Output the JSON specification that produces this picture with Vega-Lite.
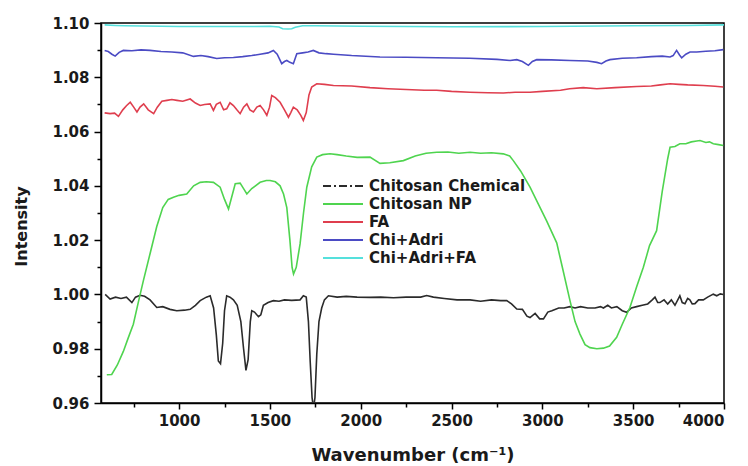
{
  "$schema": "https://vega.github.io/schema/vega-lite/v6.json",
  "width": 623,
  "height": 380,
  "autosize": {"type": "none"},
  "padding": {"left": 101, "top": 23, "right": 24, "bottom": 63},
  "background": "white",
  "config": {
    "view": {"stroke": "black", "strokeWidth": 1.5},
    "axis": {
      "grid": false,
      "domainColor": "black",
      "domainWidth": 1.5,
      "tickColor": "black",
      "tickWidth": 1.5,
      "labelFont": "DejaVu Sans",
      "labelFontWeight": "bold",
      "labelFontSize": 15,
      "labelColor": "#1a1a1a",
      "titleFont": "DejaVu Sans",
      "titleFontWeight": "bold",
      "titleColor": "#1a1a1a"
    },
    "legend": {
      "labelFont": "DejaVu Sans",
      "labelFontWeight": "bold",
      "labelFontSize": 15,
      "labelColor": "#1a1a1a"
    }
  },
  "data": {"values": [
    {"s":"Chitosan Chemical","x":593,"y":1.000},{"s":"Chitosan Chemical","x":620,"y":0.9983},{"s":"Chitosan Chemical","x":650,"y":0.999},{"s":"Chitosan Chemical","x":680,"y":0.9985},{"s":"Chitosan Chemical","x":710,"y":0.999},{"s":"Chitosan Chemical","x":740,"y":0.997},{"s":"Chitosan Chemical","x":760,"y":0.999},{"s":"Chitosan Chemical","x":785,"y":0.9997},{"s":"Chitosan Chemical","x":810,"y":0.9993},{"s":"Chitosan Chemical","x":840,"y":0.998},{"s":"Chitosan Chemical","x":877,"y":0.9952},{"s":"Chitosan Chemical","x":910,"y":0.9955},{"s":"Chitosan Chemical","x":950,"y":0.9945},{"s":"Chitosan Chemical","x":987,"y":0.994},{"s":"Chitosan Chemical","x":1030,"y":0.9942},{"s":"Chitosan Chemical","x":1061,"y":0.9945},{"s":"Chitosan Chemical","x":1090,"y":0.996},{"s":"Chitosan Chemical","x":1116,"y":0.9977},{"s":"Chitosan Chemical","x":1150,"y":0.999},{"s":"Chitosan Chemical","x":1171,"y":0.9995},{"s":"Chitosan Chemical","x":1190,"y":0.995},{"s":"Chitosan Chemical","x":1205,"y":0.985},{"s":"Chitosan Chemical","x":1216,"y":0.9755},{"s":"Chitosan Chemical","x":1228,"y":0.9745},{"s":"Chitosan Chemical","x":1240,"y":0.982},{"s":"Chitosan Chemical","x":1250,"y":0.994},{"s":"Chitosan Chemical","x":1262,"y":0.9995},{"s":"Chitosan Chemical","x":1280,"y":0.999},{"s":"Chitosan Chemical","x":1299,"y":0.998},{"s":"Chitosan Chemical","x":1320,"y":0.996},{"s":"Chitosan Chemical","x":1340,"y":0.99},{"s":"Chitosan Chemical","x":1355,"y":0.98},{"s":"Chitosan Chemical","x":1368,"y":0.972},{"s":"Chitosan Chemical","x":1380,"y":0.976},{"s":"Chitosan Chemical","x":1392,"y":0.99},{"s":"Chitosan Chemical","x":1400,"y":0.994},{"s":"Chitosan Chemical","x":1415,"y":0.9935},{"s":"Chitosan Chemical","x":1437,"y":0.9918},{"s":"Chitosan Chemical","x":1450,"y":0.9925},{"s":"Chitosan Chemical","x":1464,"y":0.996},{"s":"Chitosan Chemical","x":1490,"y":0.997},{"s":"Chitosan Chemical","x":1519,"y":0.9977},{"s":"Chitosan Chemical","x":1550,"y":0.9975},{"s":"Chitosan Chemical","x":1580,"y":0.998},{"s":"Chitosan Chemical","x":1620,"y":0.9978},{"s":"Chitosan Chemical","x":1666,"y":0.998},{"s":"Chitosan Chemical","x":1684,"y":0.9995},{"s":"Chitosan Chemical","x":1700,"y":0.999},{"s":"Chitosan Chemical","x":1712,"y":0.99},{"s":"Chitosan Chemical","x":1722,"y":0.975},{"s":"Chitosan Chemical","x":1732,"y":0.962},{"s":"Chitosan Chemical","x":1740,"y":0.958},{"s":"Chitosan Chemical","x":1748,"y":0.962},{"s":"Chitosan Chemical","x":1758,"y":0.978},{"s":"Chitosan Chemical","x":1770,"y":0.990},{"s":"Chitosan Chemical","x":1785,"y":0.995},{"s":"Chitosan Chemical","x":1800,"y":0.998},{"s":"Chitosan Chemical","x":1822,"y":0.9995},{"s":"Chitosan Chemical","x":1870,"y":0.999},{"s":"Chitosan Chemical","x":1920,"y":0.9993},{"s":"Chitosan Chemical","x":1980,"y":0.999},{"s":"Chitosan Chemical","x":2051,"y":0.9989},{"s":"Chitosan Chemical","x":2110,"y":0.999},{"s":"Chitosan Chemical","x":2180,"y":0.9988},{"s":"Chitosan Chemical","x":2250,"y":0.999},{"s":"Chitosan Chemical","x":2330,"y":0.999},{"s":"Chitosan Chemical","x":2363,"y":0.9996},{"s":"Chitosan Chemical","x":2400,"y":0.999},{"s":"Chitosan Chemical","x":2460,"y":0.9985},{"s":"Chitosan Chemical","x":2530,"y":0.998},{"s":"Chitosan Chemical","x":2602,"y":0.998},{"s":"Chitosan Chemical","x":2660,"y":0.9975},{"s":"Chitosan Chemical","x":2720,"y":0.998},{"s":"Chitosan Chemical","x":2770,"y":0.9977},{"s":"Chitosan Chemical","x":2804,"y":0.9977},{"s":"Chitosan Chemical","x":2830,"y":0.9965},{"s":"Chitosan Chemical","x":2859,"y":0.9946},{"s":"Chitosan Chemical","x":2890,"y":0.9945},{"s":"Chitosan Chemical","x":2915,"y":0.992},{"s":"Chitosan Chemical","x":2932,"y":0.9915},{"s":"Chitosan Chemical","x":2960,"y":0.993},{"s":"Chitosan Chemical","x":2985,"y":0.991},{"s":"Chitosan Chemical","x":3006,"y":0.991},{"s":"Chitosan Chemical","x":3030,"y":0.9935},{"s":"Chitosan Chemical","x":3052,"y":0.994},{"s":"Chitosan Chemical","x":3090,"y":0.995},{"s":"Chitosan Chemical","x":3120,"y":0.995},{"s":"Chitosan Chemical","x":3152,"y":0.9955},{"s":"Chitosan Chemical","x":3180,"y":0.995},{"s":"Chitosan Chemical","x":3210,"y":0.9955},{"s":"Chitosan Chemical","x":3250,"y":0.995},{"s":"Chitosan Chemical","x":3290,"y":0.995},{"s":"Chitosan Chemical","x":3320,"y":0.9955},{"s":"Chitosan Chemical","x":3336,"y":0.995},{"s":"Chitosan Chemical","x":3360,"y":0.996},{"s":"Chitosan Chemical","x":3380,"y":0.995},{"s":"Chitosan Chemical","x":3410,"y":0.9955},{"s":"Chitosan Chemical","x":3440,"y":0.994},{"s":"Chitosan Chemical","x":3464,"y":0.9934},{"s":"Chitosan Chemical","x":3490,"y":0.995},{"s":"Chitosan Chemical","x":3519,"y":0.9955},{"s":"Chitosan Chemical","x":3550,"y":0.996},{"s":"Chitosan Chemical","x":3580,"y":0.9965},{"s":"Chitosan Chemical","x":3605,"y":0.998},{"s":"Chitosan Chemical","x":3620,"y":0.999},{"s":"Chitosan Chemical","x":3635,"y":0.997},{"s":"Chitosan Chemical","x":3647,"y":0.997},{"s":"Chitosan Chemical","x":3670,"y":0.998},{"s":"Chitosan Chemical","x":3690,"y":0.9965},{"s":"Chitosan Chemical","x":3710,"y":0.998},{"s":"Chitosan Chemical","x":3730,"y":0.996},{"s":"Chitosan Chemical","x":3757,"y":0.9995},{"s":"Chitosan Chemical","x":3770,"y":0.997},{"s":"Chitosan Chemical","x":3785,"y":0.9966},{"s":"Chitosan Chemical","x":3800,"y":0.9985},{"s":"Chitosan Chemical","x":3812,"y":0.998},{"s":"Chitosan Chemical","x":3825,"y":0.9965},{"s":"Chitosan Chemical","x":3840,"y":0.9966},{"s":"Chitosan Chemical","x":3860,"y":0.998},{"s":"Chitosan Chemical","x":3886,"y":0.998},{"s":"Chitosan Chemical","x":3910,"y":0.999},{"s":"Chitosan Chemical","x":3941,"y":1.0001},{"s":"Chitosan Chemical","x":3960,"y":0.9995},{"s":"Chitosan Chemical","x":3980,"y":1.0002},{"s":"Chitosan Chemical","x":3996,"y":1.000},

    {"s":"Chitosan NP","x":602,"y":0.9704},{"s":"Chitosan NP","x":629,"y":0.9705},{"s":"Chitosan NP","x":660,"y":0.974},{"s":"Chitosan NP","x":693,"y":0.979},{"s":"Chitosan NP","x":720,"y":0.984},{"s":"Chitosan NP","x":748,"y":0.989},{"s":"Chitosan NP","x":775,"y":0.997},{"s":"Chitosan NP","x":803,"y":1.005},{"s":"Chitosan NP","x":840,"y":1.015},{"s":"Chitosan NP","x":877,"y":1.025},{"s":"Chitosan NP","x":910,"y":1.032},{"s":"Chitosan NP","x":940,"y":1.035},{"s":"Chitosan NP","x":969,"y":1.0358},{"s":"Chitosan NP","x":1000,"y":1.0365},{"s":"Chitosan NP","x":1042,"y":1.037},{"s":"Chitosan NP","x":1080,"y":1.040},{"s":"Chitosan NP","x":1116,"y":1.0413},{"s":"Chitosan NP","x":1150,"y":1.0415},{"s":"Chitosan NP","x":1189,"y":1.0413},{"s":"Chitosan NP","x":1226,"y":1.0395},{"s":"Chitosan NP","x":1250,"y":1.035},{"s":"Chitosan NP","x":1272,"y":1.0315},{"s":"Chitosan NP","x":1290,"y":1.036},{"s":"Chitosan NP","x":1309,"y":1.0408},{"s":"Chitosan NP","x":1336,"y":1.041},{"s":"Chitosan NP","x":1355,"y":1.039},{"s":"Chitosan NP","x":1373,"y":1.037},{"s":"Chitosan NP","x":1400,"y":1.039},{"s":"Chitosan NP","x":1446,"y":1.0413},{"s":"Chitosan NP","x":1480,"y":1.042},{"s":"Chitosan NP","x":1501,"y":1.042},{"s":"Chitosan NP","x":1530,"y":1.0415},{"s":"Chitosan NP","x":1556,"y":1.040},{"s":"Chitosan NP","x":1575,"y":1.037},{"s":"Chitosan NP","x":1593,"y":1.032},{"s":"Chitosan NP","x":1610,"y":1.020},{"s":"Chitosan NP","x":1622,"y":1.010},{"s":"Chitosan NP","x":1630,"y":1.0075},{"s":"Chitosan NP","x":1645,"y":1.010},{"s":"Chitosan NP","x":1666,"y":1.0186},{"s":"Chitosan NP","x":1685,"y":1.030},{"s":"Chitosan NP","x":1703,"y":1.0395},{"s":"Chitosan NP","x":1730,"y":1.047},{"s":"Chitosan NP","x":1758,"y":1.0506},{"s":"Chitosan NP","x":1790,"y":1.0515},{"s":"Chitosan NP","x":1831,"y":1.0518},{"s":"Chitosan NP","x":1870,"y":1.0515},{"s":"Chitosan NP","x":1920,"y":1.051},{"s":"Chitosan NP","x":1980,"y":1.0505},{"s":"Chitosan NP","x":2051,"y":1.0506},{"s":"Chitosan NP","x":2106,"y":1.0483},{"s":"Chitosan NP","x":2160,"y":1.0485},{"s":"Chitosan NP","x":2235,"y":1.0493},{"s":"Chitosan NP","x":2300,"y":1.051},{"s":"Chitosan NP","x":2360,"y":1.052},{"s":"Chitosan NP","x":2418,"y":1.0524},{"s":"Chitosan NP","x":2480,"y":1.0525},{"s":"Chitosan NP","x":2540,"y":1.052},{"s":"Chitosan NP","x":2602,"y":1.0524},{"s":"Chitosan NP","x":2660,"y":1.052},{"s":"Chitosan NP","x":2720,"y":1.0522},{"s":"Chitosan NP","x":2785,"y":1.0518},{"s":"Chitosan NP","x":2820,"y":1.051},{"s":"Chitosan NP","x":2840,"y":1.0493},{"s":"Chitosan NP","x":2880,"y":1.0455},{"s":"Chitosan NP","x":2932,"y":1.0395},{"s":"Chitosan NP","x":2980,"y":1.033},{"s":"Chitosan NP","x":3024,"y":1.027},{"s":"Chitosan NP","x":3079,"y":1.019},{"s":"Chitosan NP","x":3110,"y":1.010},{"s":"Chitosan NP","x":3152,"y":0.9977},{"s":"Chitosan NP","x":3180,"y":0.990},{"s":"Chitosan NP","x":3207,"y":0.9854},{"s":"Chitosan NP","x":3235,"y":0.9815},{"s":"Chitosan NP","x":3262,"y":0.9804},{"s":"Chitosan NP","x":3300,"y":0.980},{"s":"Chitosan NP","x":3336,"y":0.9802},{"s":"Chitosan NP","x":3370,"y":0.981},{"s":"Chitosan NP","x":3409,"y":0.9842},{"s":"Chitosan NP","x":3440,"y":0.989},{"s":"Chitosan NP","x":3482,"y":0.9952},{"s":"Chitosan NP","x":3520,"y":1.003},{"s":"Chitosan NP","x":3556,"y":1.010},{"s":"Chitosan NP","x":3590,"y":1.018},{"s":"Chitosan NP","x":3629,"y":1.0235},{"s":"Chitosan NP","x":3660,"y":1.038},{"s":"Chitosan NP","x":3690,"y":1.050},{"s":"Chitosan NP","x":3703,"y":1.0542},{"s":"Chitosan NP","x":3730,"y":1.0545},{"s":"Chitosan NP","x":3757,"y":1.0555},{"s":"Chitosan NP","x":3790,"y":1.0555},{"s":"Chitosan NP","x":3820,"y":1.0562},{"s":"Chitosan NP","x":3850,"y":1.0565},{"s":"Chitosan NP","x":3868,"y":1.0567},{"s":"Chitosan NP","x":3900,"y":1.056},{"s":"Chitosan NP","x":3920,"y":1.0562},{"s":"Chitosan NP","x":3941,"y":1.0555},{"s":"Chitosan NP","x":3970,"y":1.0552},{"s":"Chitosan NP","x":3996,"y":1.0549},

    {"s":"FA","x":590,"y":1.0669},{"s":"FA","x":620,"y":1.0666},{"s":"FA","x":645,"y":1.0668},{"s":"FA","x":666,"y":1.0656},{"s":"FA","x":690,"y":1.068},{"s":"FA","x":710,"y":1.0695},{"s":"FA","x":731,"y":1.0708},{"s":"FA","x":750,"y":1.069},{"s":"FA","x":768,"y":1.0672},{"s":"FA","x":785,"y":1.069},{"s":"FA","x":805,"y":1.0702},{"s":"FA","x":830,"y":1.068},{"s":"FA","x":860,"y":1.0666},{"s":"FA","x":880,"y":1.069},{"s":"FA","x":905,"y":1.0712},{"s":"FA","x":933,"y":1.0715},{"s":"FA","x":960,"y":1.0718},{"s":"FA","x":988,"y":1.0715},{"s":"FA","x":1020,"y":1.0712},{"s":"FA","x":1061,"y":1.072},{"s":"FA","x":1090,"y":1.0705},{"s":"FA","x":1116,"y":1.0696},{"s":"FA","x":1140,"y":1.070},{"s":"FA","x":1171,"y":1.0702},{"s":"FA","x":1189,"y":1.0678},{"s":"FA","x":1205,"y":1.070},{"s":"FA","x":1226,"y":1.0708},{"s":"FA","x":1245,"y":1.068},{"s":"FA","x":1262,"y":1.0684},{"s":"FA","x":1280,"y":1.0706},{"s":"FA","x":1299,"y":1.0696},{"s":"FA","x":1318,"y":1.068},{"s":"FA","x":1336,"y":1.0666},{"s":"FA","x":1355,"y":1.069},{"s":"FA","x":1373,"y":1.0702},{"s":"FA","x":1390,"y":1.068},{"s":"FA","x":1409,"y":1.0672},{"s":"FA","x":1428,"y":1.069},{"s":"FA","x":1446,"y":1.0696},{"s":"FA","x":1465,"y":1.068},{"s":"FA","x":1483,"y":1.066},{"s":"FA","x":1498,"y":1.069},{"s":"FA","x":1510,"y":1.0733},{"s":"FA","x":1530,"y":1.0725},{"s":"FA","x":1556,"y":1.0708},{"s":"FA","x":1580,"y":1.068},{"s":"FA","x":1602,"y":1.0653},{"s":"FA","x":1615,"y":1.067},{"s":"FA","x":1629,"y":1.069},{"s":"FA","x":1650,"y":1.068},{"s":"FA","x":1670,"y":1.066},{"s":"FA","x":1684,"y":1.0641},{"s":"FA","x":1700,"y":1.067},{"s":"FA","x":1715,"y":1.0735},{"s":"FA","x":1730,"y":1.0764},{"s":"FA","x":1758,"y":1.0776},{"s":"FA","x":1800,"y":1.0774},{"s":"FA","x":1850,"y":1.077},{"s":"FA","x":1950,"y":1.0768},{"s":"FA","x":2051,"y":1.0762},{"s":"FA","x":2150,"y":1.0758},{"s":"FA","x":2250,"y":1.0755},{"s":"FA","x":2350,"y":1.0752},{"s":"FA","x":2418,"y":1.0752},{"s":"FA","x":2500,"y":1.0748},{"s":"FA","x":2600,"y":1.0745},{"s":"FA","x":2700,"y":1.0743},{"s":"FA","x":2785,"y":1.0742},{"s":"FA","x":2850,"y":1.0745},{"s":"FA","x":2932,"y":1.0745},{"s":"FA","x":3000,"y":1.0748},{"s":"FA","x":3100,"y":1.0752},{"s":"FA","x":3150,"y":1.0758},{"s":"FA","x":3225,"y":1.0762},{"s":"FA","x":3300,"y":1.0758},{"s":"FA","x":3400,"y":1.0762},{"s":"FA","x":3519,"y":1.0766},{"s":"FA","x":3600,"y":1.0768},{"s":"FA","x":3650,"y":1.0772},{"s":"FA","x":3703,"y":1.0776},{"s":"FA","x":3750,"y":1.0774},{"s":"FA","x":3800,"y":1.0772},{"s":"FA","x":3886,"y":1.077},{"s":"FA","x":3950,"y":1.0767},{"s":"FA","x":3996,"y":1.0764},

    {"s":"Chi+Adri","x":590,"y":1.0899},{"s":"Chi+Adri","x":610,"y":1.0895},{"s":"Chi+Adri","x":630,"y":1.0885},{"s":"Chi+Adri","x":648,"y":1.0878},{"s":"Chi+Adri","x":670,"y":1.0892},{"s":"Chi+Adri","x":693,"y":1.0899},{"s":"Chi+Adri","x":740,"y":1.0898},{"s":"Chi+Adri","x":790,"y":1.0901},{"s":"Chi+Adri","x":840,"y":1.0899},{"s":"Chi+Adri","x":900,"y":1.0895},{"s":"Chi+Adri","x":960,"y":1.0893},{"s":"Chi+Adri","x":1020,"y":1.089},{"s":"Chi+Adri","x":1079,"y":1.0877},{"s":"Chi+Adri","x":1120,"y":1.088},{"s":"Chi+Adri","x":1160,"y":1.0876},{"s":"Chi+Adri","x":1207,"y":1.0869},{"s":"Chi+Adri","x":1250,"y":1.0872},{"s":"Chi+Adri","x":1299,"y":1.0873},{"s":"Chi+Adri","x":1350,"y":1.0876},{"s":"Chi+Adri","x":1400,"y":1.088},{"s":"Chi+Adri","x":1446,"y":1.0885},{"s":"Chi+Adri","x":1490,"y":1.089},{"s":"Chi+Adri","x":1519,"y":1.0899},{"s":"Chi+Adri","x":1540,"y":1.0885},{"s":"Chi+Adri","x":1565,"y":1.085},{"s":"Chi+Adri","x":1580,"y":1.0858},{"s":"Chi+Adri","x":1593,"y":1.0862},{"s":"Chi+Adri","x":1610,"y":1.0855},{"s":"Chi+Adri","x":1629,"y":1.085},{"s":"Chi+Adri","x":1648,"y":1.0887},{"s":"Chi+Adri","x":1680,"y":1.089},{"s":"Chi+Adri","x":1710,"y":1.0893},{"s":"Chi+Adri","x":1739,"y":1.0899},{"s":"Chi+Adri","x":1770,"y":1.089},{"s":"Chi+Adri","x":1810,"y":1.0887},{"s":"Chi+Adri","x":1850,"y":1.0885},{"s":"Chi+Adri","x":1950,"y":1.088},{"s":"Chi+Adri","x":2106,"y":1.0875},{"s":"Chi+Adri","x":2250,"y":1.0874},{"s":"Chi+Adri","x":2418,"y":1.0872},{"s":"Chi+Adri","x":2600,"y":1.087},{"s":"Chi+Adri","x":2750,"y":1.0866},{"s":"Chi+Adri","x":2822,"y":1.0862},{"s":"Chi+Adri","x":2859,"y":1.0865},{"s":"Chi+Adri","x":2890,"y":1.0858},{"s":"Chi+Adri","x":2923,"y":1.0844},{"s":"Chi+Adri","x":2945,"y":1.0858},{"s":"Chi+Adri","x":2969,"y":1.0865},{"s":"Chi+Adri","x":3050,"y":1.0864},{"s":"Chi+Adri","x":3152,"y":1.0862},{"s":"Chi+Adri","x":3250,"y":1.086},{"s":"Chi+Adri","x":3300,"y":1.0855},{"s":"Chi+Adri","x":3326,"y":1.085},{"s":"Chi+Adri","x":3350,"y":1.086},{"s":"Chi+Adri","x":3372,"y":1.0865},{"s":"Chi+Adri","x":3440,"y":1.087},{"s":"Chi+Adri","x":3519,"y":1.0872},{"s":"Chi+Adri","x":3600,"y":1.0876},{"s":"Chi+Adri","x":3660,"y":1.0878},{"s":"Chi+Adri","x":3703,"y":1.0875},{"s":"Chi+Adri","x":3720,"y":1.088},{"s":"Chi+Adri","x":3739,"y":1.0899},{"s":"Chi+Adri","x":3755,"y":1.0882},{"s":"Chi+Adri","x":3767,"y":1.0872},{"s":"Chi+Adri","x":3790,"y":1.0885},{"s":"Chi+Adri","x":3813,"y":1.0893},{"s":"Chi+Adri","x":3850,"y":1.0893},{"s":"Chi+Adri","x":3900,"y":1.0896},{"s":"Chi+Adri","x":3950,"y":1.0898},{"s":"Chi+Adri","x":3996,"y":1.0902},

    {"s":"Chi+Adri+FA","x":590,"y":1.0993},{"s":"Chi+Adri+FA","x":650,"y":1.0991},{"s":"Chi+Adri+FA","x":700,"y":1.099},{"s":"Chi+Adri+FA","x":800,"y":1.0989},{"s":"Chi+Adri+FA","x":900,"y":1.0988},{"s":"Chi+Adri+FA","x":1000,"y":1.0987},{"s":"Chi+Adri+FA","x":1200,"y":1.0987},{"s":"Chi+Adri+FA","x":1400,"y":1.0987},{"s":"Chi+Adri+FA","x":1500,"y":1.0988},{"s":"Chi+Adri+FA","x":1550,"y":1.0985},{"s":"Chi+Adri+FA","x":1570,"y":1.0979},{"s":"Chi+Adri+FA","x":1600,"y":1.0978},{"s":"Chi+Adri+FA","x":1620,"y":1.0979},{"s":"Chi+Adri+FA","x":1640,"y":1.0984},{"s":"Chi+Adri+FA","x":1680,"y":1.099},{"s":"Chi+Adri+FA","x":1750,"y":1.099},{"s":"Chi+Adri+FA","x":2000,"y":1.0988},{"s":"Chi+Adri+FA","x":2500,"y":1.0986},{"s":"Chi+Adri+FA","x":3000,"y":1.0987},{"s":"Chi+Adri+FA","x":3500,"y":1.099},{"s":"Chi+Adri+FA","x":3800,"y":1.0991},{"s":"Chi+Adri+FA","x":4000,"y":1.0993}
  ]},
  "mark": {"type": "line", "strokeWidth": 1.6, "clip": true, "interpolate": "linear"},
  "encoding": {
    "x": {
      "field": "x", "type": "quantitative",
      "scale": {"domain": [570, 4000], "nice": false, "zero": false},
      "axis": {
        "values": [750, 1000, 1250, 1500, 1750, 2000, 2250, 2500, 2750, 3000, 3250, 3500, 3750, 4000],
        "labelExpr": "datum.value % 500 == 0 ? format(datum.value, 'd') : ''",
        "tickSize": {"condition": {"test": "datum.value % 500 != 0", "value": 4}, "value": 6},
        "labelPadding": 4,
        "title": "Wavenumber (cm⁻¹)",
        "titleFontSize": 18,
        "titleBaseline": "alphabetic",
        "titleY": 57
      }
    },
    "y": {
      "field": "y", "type": "quantitative",
      "scale": {"domain": [0.96, 1.10], "nice": false, "zero": false},
      "axis": {
        "values": [0.96, 0.97, 0.98, 0.99, 1.0, 1.01, 1.02, 1.03, 1.04, 1.05, 1.06, 1.07, 1.08, 1.09, 1.10],
        "labelExpr": "round(datum.value * 100) % 2 == 0 ? format(datum.value, '.2f') : ''",
        "tickSize": {"condition": {"test": "round(datum.value * 100) % 2 != 0", "value": 4}, "value": 7},
        "labelPadding": 5,
        "title": "Intensity",
        "titleFontSize": 16,
        "titleBaseline": "alphabetic",
        "titleX": -75,
        "titleY": 203,
        "titleAlign": "center",
        "titleAngle": -90
      }
    },
    "color": {
      "field": "s", "type": "nominal",
      "scale": {
        "domain": ["Chitosan Chemical", "Chitosan NP", "FA", "Chi+Adri", "Chi+Adri+FA"],
        "range": ["#2b2b2b", "#4fd44f", "#df3e4e", "#4b4bc4", "#55e0dc"]
      },
      "legend": {
        "title": null,
        "orient": "none",
        "legendX": 221,
        "legendY": 154,
        "padding": 0,
        "symbolType": "stroke",
        "symbolSize": 1600,
        "symbolStrokeWidth": 2,
        "clipHeight": 18,
        "rowPadding": 0,
        "labelOffset": 5,
        "encode": {
          "symbols": {
            "update": {
              "strokeDash": {"signal": "datum.value === 'Chitosan Chemical' ? [8, 3, 2, 3] : [1, 0]"}
            }
          }
        }
      }
    }
  }
}
